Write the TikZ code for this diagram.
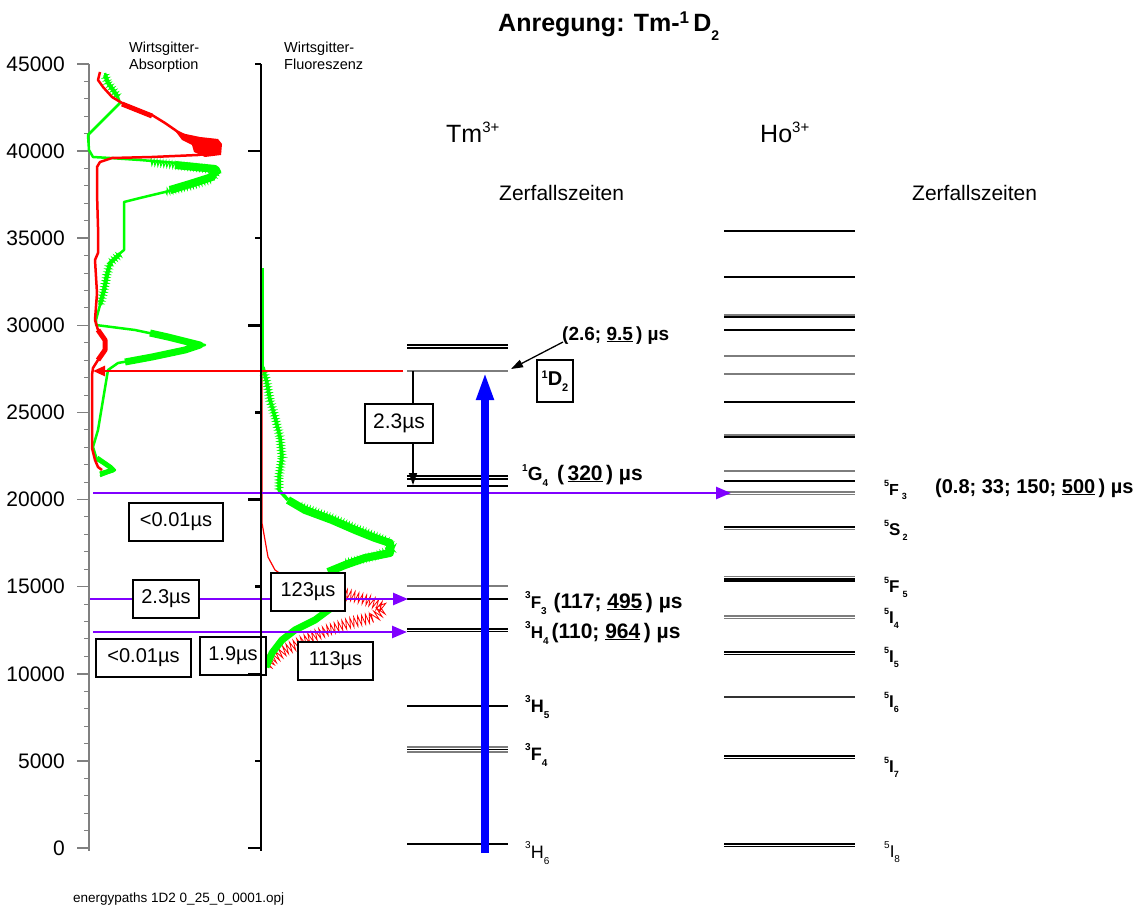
\documentclass[tikz,border=0pt]{standalone}
\usepackage{fontspec}
\setmainfont{Liberation Sans}
\usetikzlibrary{arrows.meta,decorations.pathmorphing}
\definecolor{specgreen}{RGB}{0,255,0}
\definecolor{specred}{RGB}{255,0,0}
\definecolor{myviolet}{RGB}{128,0,255}
\definecolor{levgray}{RGB}{125,125,125}
\definecolor{axgray}{RGB}{128,128,128}
\newcommand{\sz}[1]{\fontsize{#1}{#1}\selectfont}
\newcommand{\rs}[3]{\raisebox{#1}{\sz{#2}#3}}
\tikzset{
  lk/.style={line width=1.3pt},
  lg/.style={line width=1.2pt, draw=levgray},
  tbox/.style={draw, line width=2pt, fill=white, minimum height=38pt, inner sep=0pt, font=\sz{20}},
  purp/.style={draw=myviolet, line width=2.5pt, -{Triangle[length=15pt,width=12pt]}},
  lbl/.style={inner sep=0pt, anchor=base west, font=\bfseries\sz{20}},
  ticklab/.style={inner sep=0pt, anchor=east, font=\sz{21}},
  spikes/.style={line width=1pt, line join=miter, decorate, decoration={zigzag, segment length=3pt, amplitude=3pt}},
}
\begin{document}
\begin{tikzpicture}[x=1pt,y=-1pt]
\useasboundingbox (0,0) rectangle (1139,909);

% ---- titles ----
\node[inner sep=0pt, anchor=base west, font=\bfseries\sz{25}] (title) at (498,32)
  {Anregung: Tm-\rs{8pt}{17}{1}\,D\rs{-9pt}{14}{2}};
\node[inner sep=0pt, anchor=base west, font=\sz{14.5}, align=left] (wabs) at (129,70)
  {Wirtsgitter-\\[3pt]Absorption};
\node[inner sep=0pt, anchor=base west, font=\sz{14.5}, align=left] (wfl) at (284,70)
  {Wirtsgitter-\\[3pt]Fluoreszenz};
\node[inner sep=0pt, anchor=base west, font=\sz{25}] (tmion) at (446,143) {Tm\rs{10pt}{15}{3+}};
\node[inner sep=0pt, anchor=base west, font=\sz{25}] (hoion) at (760,143) {Ho\rs{10pt}{15}{3+}};
\node[inner sep=0pt, anchor=base west, font=\sz{21}] (zf1) at (499,201) {Zerfallszeiten};
\node[inner sep=0pt, anchor=base west, font=\sz{21}] (zf2) at (912,201) {Zerfallszeiten};
\node[inner sep=0pt, anchor=base west, font=\sz{13.5}] (fname) at (73,902) {energypaths 1D2 0\_25\_0\_0001.opj};

% ---- left axis ----
\draw[axgray, line width=2pt] (89,64) -- (89,851);
\foreach \k in {0,...,45}{
  \draw[axgray, line width=1pt] (84,{848-17.422*\k}) -- (89,{848-17.422*\k});
}
\foreach \k/\lab in {0/0,5/5000,10/10000,15/15000,20/20000,25/25000,30/30000,35/35000,40/40000,45/45000}{
  \draw[axgray, line width=1.5pt] (77,{848-17.422*\k}) -- (89,{848-17.422*\k});
  \node[ticklab] (tl\k) at (65,{848-17.422*\k}) {\lab};
}

% ---- absorption spectrum ----
\draw[specgreen, line width=2.5pt, line join=round] (105,73) -- (108,83) -- (113,90) -- (118,97) -- (120,103) -- (88,135) -- (89,150) -- (93,157) -- (110,158) -- (140,160) -- (190,164) -- (218,168) -- (220,172) -- (212,178) -- (190,185) -- (165,192) -- (140,198) -- (124,202) -- (124,250) -- (118,255) -- (110,263) -- (107,275) -- (104,290) -- (100,305) -- (96,320) -- (96,325) -- (135,330) -- (168,337) -- (205,345) -- (185,350) -- (152,357) -- (118,363) -- (108,370) -- (98,430) -- (93,447) -- (97,460) -- (110,467) -- (115,470) -- (100,476);
\draw[specgreen, line width=4pt, line join=round] (105,75) -- (108,83) -- (113,90) -- (118,97);
\draw[specgreen, spikes] (105,75) -- (108,83) -- (113,90) -- (118,97);
\draw[specgreen, line width=8pt, line join=round] (175,165) -- (215,169) -- (212,177) -- (190,184) -- (170,190);
\draw[specgreen, spikes] (150,162) -- (175,165) -- (218,170) -- (212,179) -- (190,186) -- (165,192);
\draw[specgreen, line width=4pt, line join=round] (120,254) -- (110,263) -- (107,275) -- (104,290) -- (100,305);
\draw[specgreen, spikes] (120,254) -- (110,263) -- (107,275) -- (104,290) -- (100,305);
\draw[specgreen, line width=7pt, line join=round] (150,333) -- (168,337) -- (200,345) -- (185,350) -- (152,357) -- (125,362);
\draw[specgreen, line width=5pt, line join=round] (97,458) -- (110,467) -- (113,470) -- (100,474);

\draw[specred, line width=2.5pt, line join=round] (100,72) -- (98,80) -- (103,87) -- (112,97) -- (122,103) -- (135,110) -- (152,115) -- (165,123) -- (178,132) -- (188,137) -- (198,140) -- (218,142) -- (220,152) -- (198,155) -- (152,157) -- (112,158) -- (100,162) -- (97,167) -- (97,193) -- (98,227) -- (98,253) -- (95,260) -- (97,293) -- (95,320) -- (98,330) -- (105,340) -- (105,350) -- (98,360) -- (93,368) -- (92,375) -- (92,448) -- (95,460) -- (98,467) -- (102,470);
\draw[specred, line width=5pt, line join=round] (122,104) -- (152,116);
\draw[specred, line width=5pt, line join=round] (98,330) -- (105,340) -- (105,350) -- (98,360);
\fill[specred] (176,132) -- (200,137) -- (218,139) -- (222,144) -- (221,155) -- (205,157) -- (194,152) -- (192,145) -- (182,140) -- cycle;

% ---- fluorescence spectrum ----
\draw[specred, line width=1.2pt, line join=round] (262,367) -- (262,523) -- (265,540) -- (268,557) -- (275,570) -- (290,580) -- (310,586);
\draw[specred, line width=0.8pt, line join=miter, decorate, decoration={zigzag, segment length=4pt, amplitude=5pt}] (310,586) -- (345,594) -- (370,601) -- (384,608) -- (375,617) -- (350,623) -- (328,630) -- (305,640) -- (285,650) -- (272,660) -- (266,667);
\draw[specgreen, line width=2pt] (263,268) -- (263,367);
\draw[specgreen, line width=3.5pt, line join=round] (263,367) -- (267,383) -- (270,400) -- (275,417) -- (280,437) -- (282,457) -- (279,477) -- (279,490) -- (288,500);
\draw[specgreen, spikes] (264,372) -- (267,383) -- (270,400) -- (275,417) -- (280,437) -- (282,457) -- (279,477) -- (279,490);
\draw[specgreen, line width=8pt, line join=round] (288,500) -- (305,510) -- (332,520) -- (355,530) -- (375,538) -- (390,543) -- (390,553) -- (365,558) -- (345,565) -- (328,572);
\draw[specgreen, spikes] (300,506) -- (332,518) -- (355,528) -- (385,540) -- (395,548) -- (375,556) -- (345,563);
\draw[specgreen, line width=7pt, line join=round] (338,603) -- (315,620) -- (295,630) -- (282,640) -- (272,653) -- (266,667);

% ---- Tm levels ----
\foreach \y in {345,348,476,479,486,599,629,631.5,706,749.5,844}{
  \draw[lk] (407,\y) -- (508,\y);
}
\foreach \y in {371,586,747,752}{
  \draw[lg] (407,\y) -- (508,\y);
}
% ---- Ho levels ----
\foreach \y in {231,277,317,402,437,481,527,579,581,652,654.5,756,758.5,844,846.5}{
  \draw[lk] (724,\y) -- (855,\y);
}
\draw[line width=2pt] (724,330) -- (855,330);
\draw[line width=2.6pt, draw=black!80] (724,697) -- (855,697);
\foreach \y in {315,356,374,435,471,492,494.5,529.5,576.5,616,618.5}{
  \draw[lg] (724,\y) -- (855,\y);
}

% ---- arrows ----
\coordinate (d2right) at (403,371);
\coordinate (absax) at (93,371);
\draw[specred, line width=2.5pt, -{Triangle[length=12pt,width=10pt]}] (d2right) -- (absax);

\coordinate (pa1) at (93,493);
\coordinate (ho5F3) at (731,493);
\coordinate (pa2) at (90,599);
\coordinate (tm3F3) at (408,599);
\coordinate (pa3) at (93,632);
\coordinate (tm3H4) at (407,632);
\draw[purp] (pa1) -- (ho5F3);
\draw[purp] (pa2) -- (tm3F3);
\draw[purp] (pa3) -- (tm3H4);

\coordinate (d2left) at (413,371);
\coordinate (g4top) at (413,485);
\draw[line width=1.3pt, -{Triangle[length=12pt,width=8pt]}] (d2left) -- (g4top);

\coordinate (gs) at (485,853);
\coordinate (d2mid) at (485,372);
\draw[draw=blue, line width=7.5pt, -{Triangle[length=28pt,width=16pt]}] (gs) -- (d2mid);

% ---- Tm labels ----
\node[lbl, font=\bfseries\sz{19}] (l1D2) at (562,340) {(2.6; \underline{9.5}\,) µs};
\coordinate (l1D2foot) at (563,342);
\coordinate (d2end) at (511,369);
\draw[line width=1.3pt, -{Triangle[length=12pt,width=8pt]}] (l1D2foot) -- (d2end);
\node[lbl, font=\bfseries\sz{21}] (lG4) at (522,480) {\rs{9pt}{10}{1}{\sz{19}G}\rs{-6pt}{10}{4}\hspace{9pt}(\,\underline{320}\,) µs};
\node[lbl, font=\bfseries\sz{21}] (lF3) at (525,608) {\rs{10pt}{10}{3}{\sz{17}F}\rs{-6pt}{10}{3}\hspace{7pt}(117; \underline{495}\,) µs};
\node[lbl, font=\bfseries\sz{21}] (lH4) at (525,638) {\rs{10pt}{10}{3}{\sz{17}H}\rs{-6pt}{10}{4}\hspace{3pt}(110; \underline{964}\,) µs};
\node[lbl, font=\bfseries\sz{18}] (lH5) at (525,712) {\rs{10pt}{10}{3}H\rs{-6pt}{10}{5}};
\node[lbl, font=\bfseries\sz{18}] (lF4) at (525,760) {\rs{10pt}{10}{3}F\rs{-6pt}{10}{4}};
\node[lbl, font=\sz{18}] (lH6) at (525,858) {\rs{10pt}{10}{3}H\rs{-6pt}{10}{6}};

% ---- Ho labels ----
\node[lbl, font=\bfseries\sz{16}] (h5F3) at (884,495) {\rs{9pt}{9}{5}F\hspace{3pt}\rs{-4pt}{9}{3}};
\node[lbl, font=\bfseries\sz{20}] (h5F3t) at (935,493) {(0.8; 33; 150; \underline{500}\,) µs};
\node[lbl, font=\bfseries\sz{17}] (h5S2) at (884,535) {\rs{9pt}{9}{5}S\hspace{2pt}\rs{-5pt}{9}{2}};
\node[lbl, font=\bfseries\sz{17}] (h5F5) at (884,592) {\rs{9pt}{9}{5}F\hspace{3pt}\rs{-5pt}{9}{5}};
\node[lbl, font=\bfseries\sz{17}] (h5I4) at (884,623) {\rs{9pt}{9}{5}I\rs{-5pt}{9}{4}};
\node[lbl, font=\bfseries\sz{17}] (h5I5) at (884,662) {\rs{9pt}{9}{5}I\rs{-5pt}{9}{5}};
\node[lbl, font=\bfseries\sz{17}] (h5I6) at (884,707) {\rs{9pt}{9}{5}I\rs{-5pt}{9}{6}};
\node[lbl, font=\bfseries\sz{17}] (h5I7) at (884,772) {\rs{9pt}{9}{5}I\rs{-5pt}{9}{7}};
\node[lbl, font=\sz{17}] (h5I8) at (884,857) {\rs{9pt}{10}{5}I\rs{-5pt}{10}{8}};

% ---- boxes ----
\node[tbox, minimum width=94pt] (b1) at (176,522) {<0.01µs};
\node[tbox, minimum width=66pt] (b2) at (166,599) {2.3µs};
\node[tbox, minimum width=95pt] (b3) at (143.5,658) {<0.01µs};
\node[tbox, minimum width=66pt] (b4) at (233,656) {1.9µs};
\node[tbox, minimum width=74pt] (b5) at (308,592) {123µs};
\node[tbox, minimum width=75pt] (b6) at (335.5,661) {113µs};
\node[tbox, minimum width=68pt, minimum height=39pt, font=\sz{21}] (b7) at (399,423.5) {2.3µs};
\node[tbox, minimum width=36pt, minimum height=42pt, font=\bfseries\sz{20}] (b8) at (555,381) {\rs{7pt}{11}{1}D\rs{-6pt}{11}{2}};

% ---- second axis ----
\draw[line width=2.7pt] (261,64) -- (261,851);
\foreach \k in {0,10,20,30,40}{
  \draw[line width=2.5pt] (248,{848-17.422*\k}) -- (261,{848-17.422*\k});
}
\foreach \k in {5,15,25,35,45}{
  \draw[line width=2.5pt] (255,{848-17.422*\k}) -- (261,{848-17.422*\k});
}
\end{tikzpicture}
\end{document}
